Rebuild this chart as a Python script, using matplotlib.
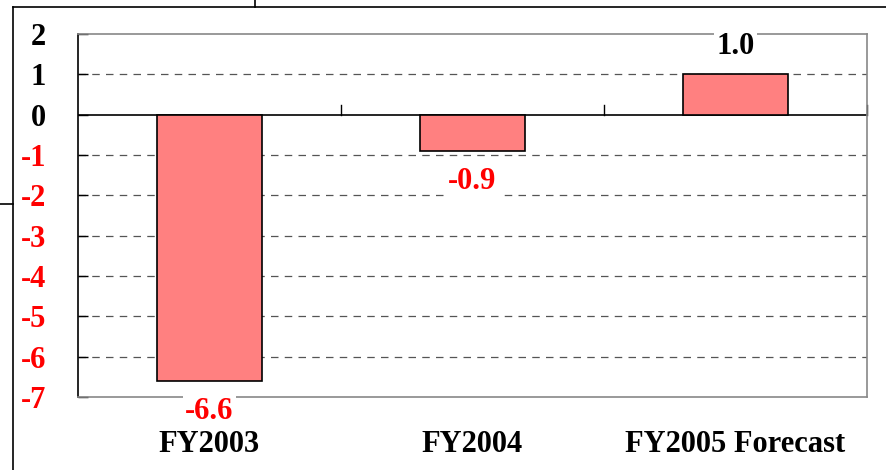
import matplotlib.pyplot as plt
from matplotlib.lines import Line2D

categories = ["FY2003", "FY2004", "FY2005 Forecast"]
values = [-6.6, -0.9, 1.0]
labels = ["-6.6", "-0.9", "1.0"]
label_colors = ["red", "red", "black"]
yticks = [2, 1, 0, -1, -2, -3, -4, -5, -6, -7]

plt.rcParams['font.family'] = ['Liberation Serif', 'DejaVu Serif']
plt.rcParams['font.weight'] = 'bold'

fig = plt.figure(figsize=(8.87, 4.70), dpi=100)
ax = fig.add_axes([78/887, 1-397/470, (867-78)/887, (397-34)/470])

x = list(range(len(categories)))
ax.bar(x, values, width=0.4, color="#FF8080", edgecolor="black", linewidth=1.2, zorder=3)

ax.set_xlim(-0.5, len(categories) - 0.5)
ax.set_ylim(-7, 2)
ax.set_yticks(yticks)
ax.set_yticklabels([str(v) for v in yticks], fontsize=22, fontweight='bold')
for t, v in zip(ax.get_yticklabels(), yticks):
    t.set_color("red" if v < 0 else "black")
ax.tick_params(axis='y', direction='in', length=7, pad=23, width=1)

# category labels at bottom
ax.set_xticks(x)
ax.set_xticklabels(categories, fontsize=22, fontweight='bold')
ax.tick_params(axis='x', length=0, pad=24)

# grid lines
for v in yticks:
    if v not in (0, 2, -7):
        ax.axhline(v, color="#555555", linestyle=(0, (6, 5)), linewidth=0.9, zorder=1)
ax.axhline(0, color="black", linewidth=1.2, zorder=2)

# small ticks at category boundaries on zero line
for b in range(1, len(categories) + 1):
    ax.plot([b - 0.5, b - 0.5], [0, 0.25], color="black", linewidth=1, zorder=2, clip_on=False)

for s in ["top", "right", "bottom"]:
    ax.spines[s].set_color("#888888")
    ax.spines[s].set_linewidth(1.2)
ax.spines["left"].set_color("black")
ax.spines["left"].set_linewidth(1.2)

# value labels
for xi, v, lab, c in zip(x, values, labels, label_colors):
    off = -0.75 if v < 0 else 0.68
    ax.text(xi, v + off, lab, ha='center', va='center', fontsize=22, fontweight='bold',
            color=c, zorder=5, clip_on=False,
            bbox=dict(facecolor='white', edgecolor='none', pad=2))

# outer frame lines of the surrounding slide
W, H = 887, 470
def fl(xs, ys):
    fig.add_artist(Line2D([p / W for p in xs], [1 - p / H for p in ys],
                          transform=fig.transFigure, color="black", linewidth=1.2))
fl([13, 13], [7, 470])
fl([13, 887], [7, 7])
fl([255, 255], [0, 7])
fl([0, 13], [204, 204])

fig.savefig("out.png", dpi=100)
